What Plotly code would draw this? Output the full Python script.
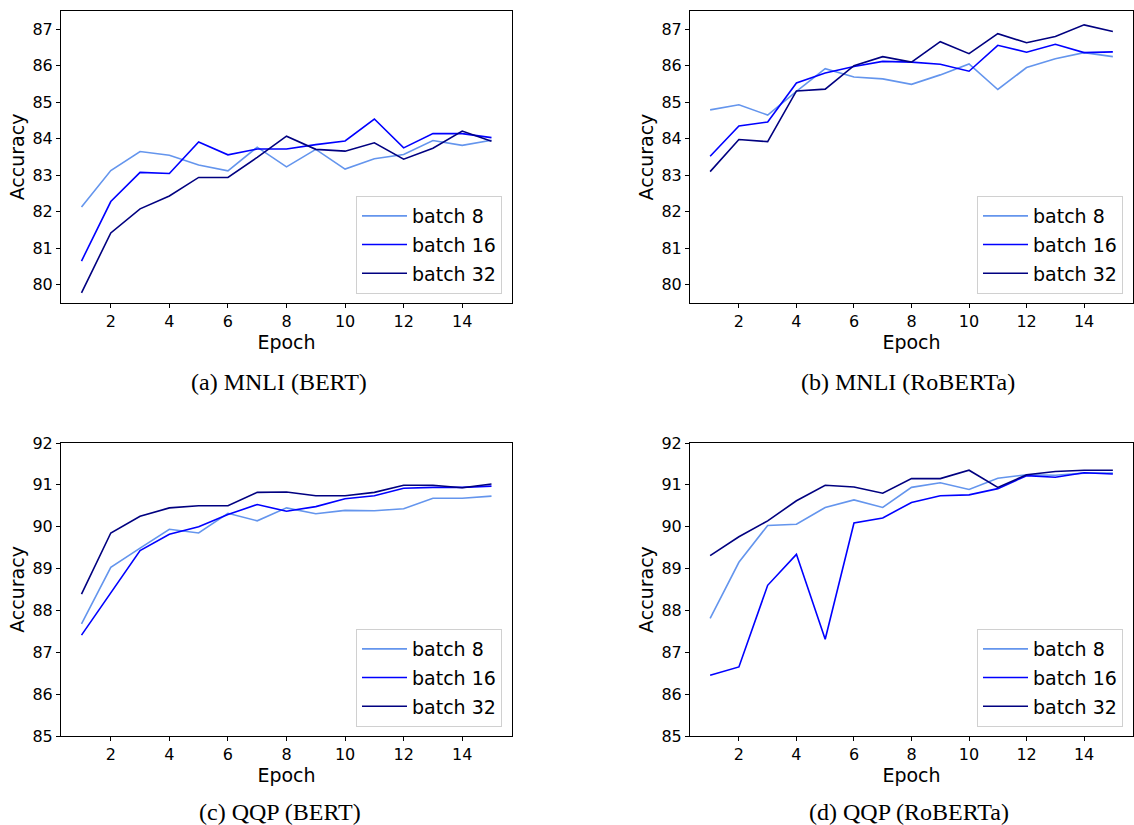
import plotly.graph_objects as go

epochs = list(range(1, 16))

# (a) MNLI (BERT)
mnli_bert_b8 = [82.13, 83.13, 83.65, 83.55, 83.28, 83.12, 83.77, 83.23, 83.71, 83.17, 83.45, 83.57, 83.95, 83.82, 83.96]
mnli_bert_b16 = [80.65, 82.28, 83.08, 83.05, 83.91, 83.56, 83.72, 83.72, 83.84, 83.94, 84.54, 83.75, 84.14, 84.14, 84.03]
mnli_bert_b32 = [79.78, 81.42, 82.08, 82.43, 82.94, 82.94, 83.49, 84.07, 83.71, 83.66, 83.89, 83.44, 83.74, 84.21, 83.93]

# (b) MNLI (RoBERTa)
mnli_roberta_b8 = [84.79, 84.93, 84.65, 85.30, 85.92, 85.69, 85.64, 85.49, 85.75, 86.05, 85.35, 85.95, 86.19, 86.36, 86.25]
mnli_roberta_b16 = [83.52, 84.35, 84.46, 85.53, 85.80, 85.98, 86.12, 86.10, 86.04, 85.85, 86.56, 86.37, 86.59, 86.36, 86.38]
mnli_roberta_b32 = [83.10, 83.98, 83.92, 85.31, 85.36, 86.00, 86.25, 86.10, 86.66, 86.33, 86.88, 86.63, 86.80, 87.12, 86.94]

# (c) QQP (BERT)
qqp_bert_b8 = [87.68, 89.03, 89.49, 89.94, 89.85, 90.32, 90.14, 90.45, 90.31, 90.39, 90.38, 90.43, 90.68, 90.68, 90.73]
qqp_bert_b16 = [87.41, 88.42, 89.43, 89.82, 90.00, 90.29, 90.53, 90.37, 90.48, 90.67, 90.74, 90.92, 90.94, 90.94, 90.97]
qqp_bert_b32 = [88.39, 89.85, 90.25, 90.45, 90.50, 90.50, 90.82, 90.83, 90.74, 90.74, 90.82, 90.99, 90.99, 90.93, 91.02]

# (d) QQP (RoBERTa)
qqp_roberta_b8 = [87.81, 89.15, 90.03, 90.06, 90.46, 90.64, 90.46, 90.94, 91.05, 90.89, 91.16, 91.24, 91.23, 91.28, 91.28]
qqp_roberta_b16 = [86.45, 86.65, 88.60, 89.34, 87.31, 90.09, 90.21, 90.58, 90.74, 90.76, 90.91, 91.22, 91.18, 91.29, 91.26]
qqp_roberta_b32 = [89.31, 89.76, 90.14, 90.62, 90.99, 90.95, 90.80, 91.15, 91.15, 91.35, 90.94, 91.24, 91.32, 91.35, 91.35]

series_names = ["batch 8", "batch 16", "batch 32"]
captions = ["(a) MNLI (BERT)", "(b) MNLI (RoBERTa)", "(c) QQP (BERT)", "(d) QQP (RoBERTa)"]
mnli_ticks = [80, 81, 82, 83, 84, 85, 86, 87]
qqp_ticks = [85, 86, 87, 88, 89, 90, 91, 92]
x_ticks = [2, 4, 6, 8, 10, 12, 14]

colors = ["#6495ED", "#0000FF", "#000080"]
W, H = 1134, 825

panels = [
    dict(data=[mnli_bert_b8, mnli_bert_b16, mnli_bert_b32], px=(61, 512), py=(11, 303), yr=[79.5, 87.5], yt=mnli_ticks, cap=(279, 382)),
    dict(data=[mnli_roberta_b8, mnli_roberta_b16, mnli_roberta_b32], px=(690, 1133), py=(11, 303), yr=[79.5, 87.5], yt=mnli_ticks, cap=(908, 382)),
    dict(data=[qqp_bert_b8, qqp_bert_b16, qqp_bert_b32], px=(61, 512), py=(443, 736), yr=[85, 92], yt=qqp_ticks, cap=(280, 812)),
    dict(data=[qqp_roberta_b8, qqp_roberta_b16, qqp_roberta_b32], px=(690, 1133), py=(443, 736), yr=[85, 92], yt=qqp_ticks, cap=(909, 812)),
]

fig = go.Figure()
layout = dict(
    width=W, height=H, margin=dict(l=0, r=0, t=0, b=0, autoexpand=False),
    plot_bgcolor="white", paper_bgcolor="white",
    font=dict(family="DejaVu Sans", color="black"),
    annotations=[],
)

for i, p in enumerate(panels):
    n = i + 1
    xa = "xaxis" if n == 1 else f"xaxis{n}"
    ya = "yaxis" if n == 1 else f"yaxis{n}"
    xref = "x" if n == 1 else f"x{n}"
    yref = "y" if n == 1 else f"y{n}"
    lg = "legend" if n == 1 else f"legend{n}"
    for name, vals, c in zip(series_names, p["data"], colors):
        fig.add_trace(go.Scatter(x=epochs, y=vals, mode="lines", name=name,
                                 line=dict(color=c, width=1.6),
                                 legendgroup=f"{n}-{name}",
                                 xaxis=xref, yaxis=yref, legend=lg))
    x0, x1 = p["px"]
    y0, y1 = p["py"]
    common = dict(showline=True, linecolor="black", linewidth=1, mirror=True,
                  ticks="outside", ticklen=4, tickcolor="black", showgrid=False,
                  zeroline=False, automargin=False, tickfont=dict(size=16, family="DejaVu Sans"))
    layout[xa] = dict(domain=[x0 / W, x1 / W], range=[0.3, 15.7], tickvals=x_ticks,
                      anchor=yref, title=dict(text="Epoch", font=dict(size=19), standoff=1), **common)
    layout[ya] = dict(domain=[1 - y1 / H, 1 - y0 / H], range=p["yr"], tickvals=p["yt"],
                      anchor=xref, title=dict(text="Accuracy", font=dict(size=19), standoff=2), **common)
    layout[lg] = dict(x=(x1 - 10) / W, y=1 - (y1 - 9) / H, xanchor="right", yanchor="bottom",
                      xref="paper", yref="paper", tracegroupgap=1,
                      bgcolor="rgba(255,255,255,0.8)", bordercolor="#d0d0d0", borderwidth=1,
                      font=dict(size=19, family="DejaVu Sans"), itemwidth=45)
    cx, cy = p["cap"]
    layout["annotations"].append(dict(text=captions[i], x=cx / W, y=1 - cy / H,
                                      xref="paper", yref="paper", xanchor="center", yanchor="middle",
                                      showarrow=False, font=dict(family="Liberation Serif", size=24, color="black")))

fig.update_layout(**layout)
fig.write_html("out.html", config={"displayModeBar": False},
               post_script="document.body.style.margin='0';document.body.style.overflow='hidden';")
